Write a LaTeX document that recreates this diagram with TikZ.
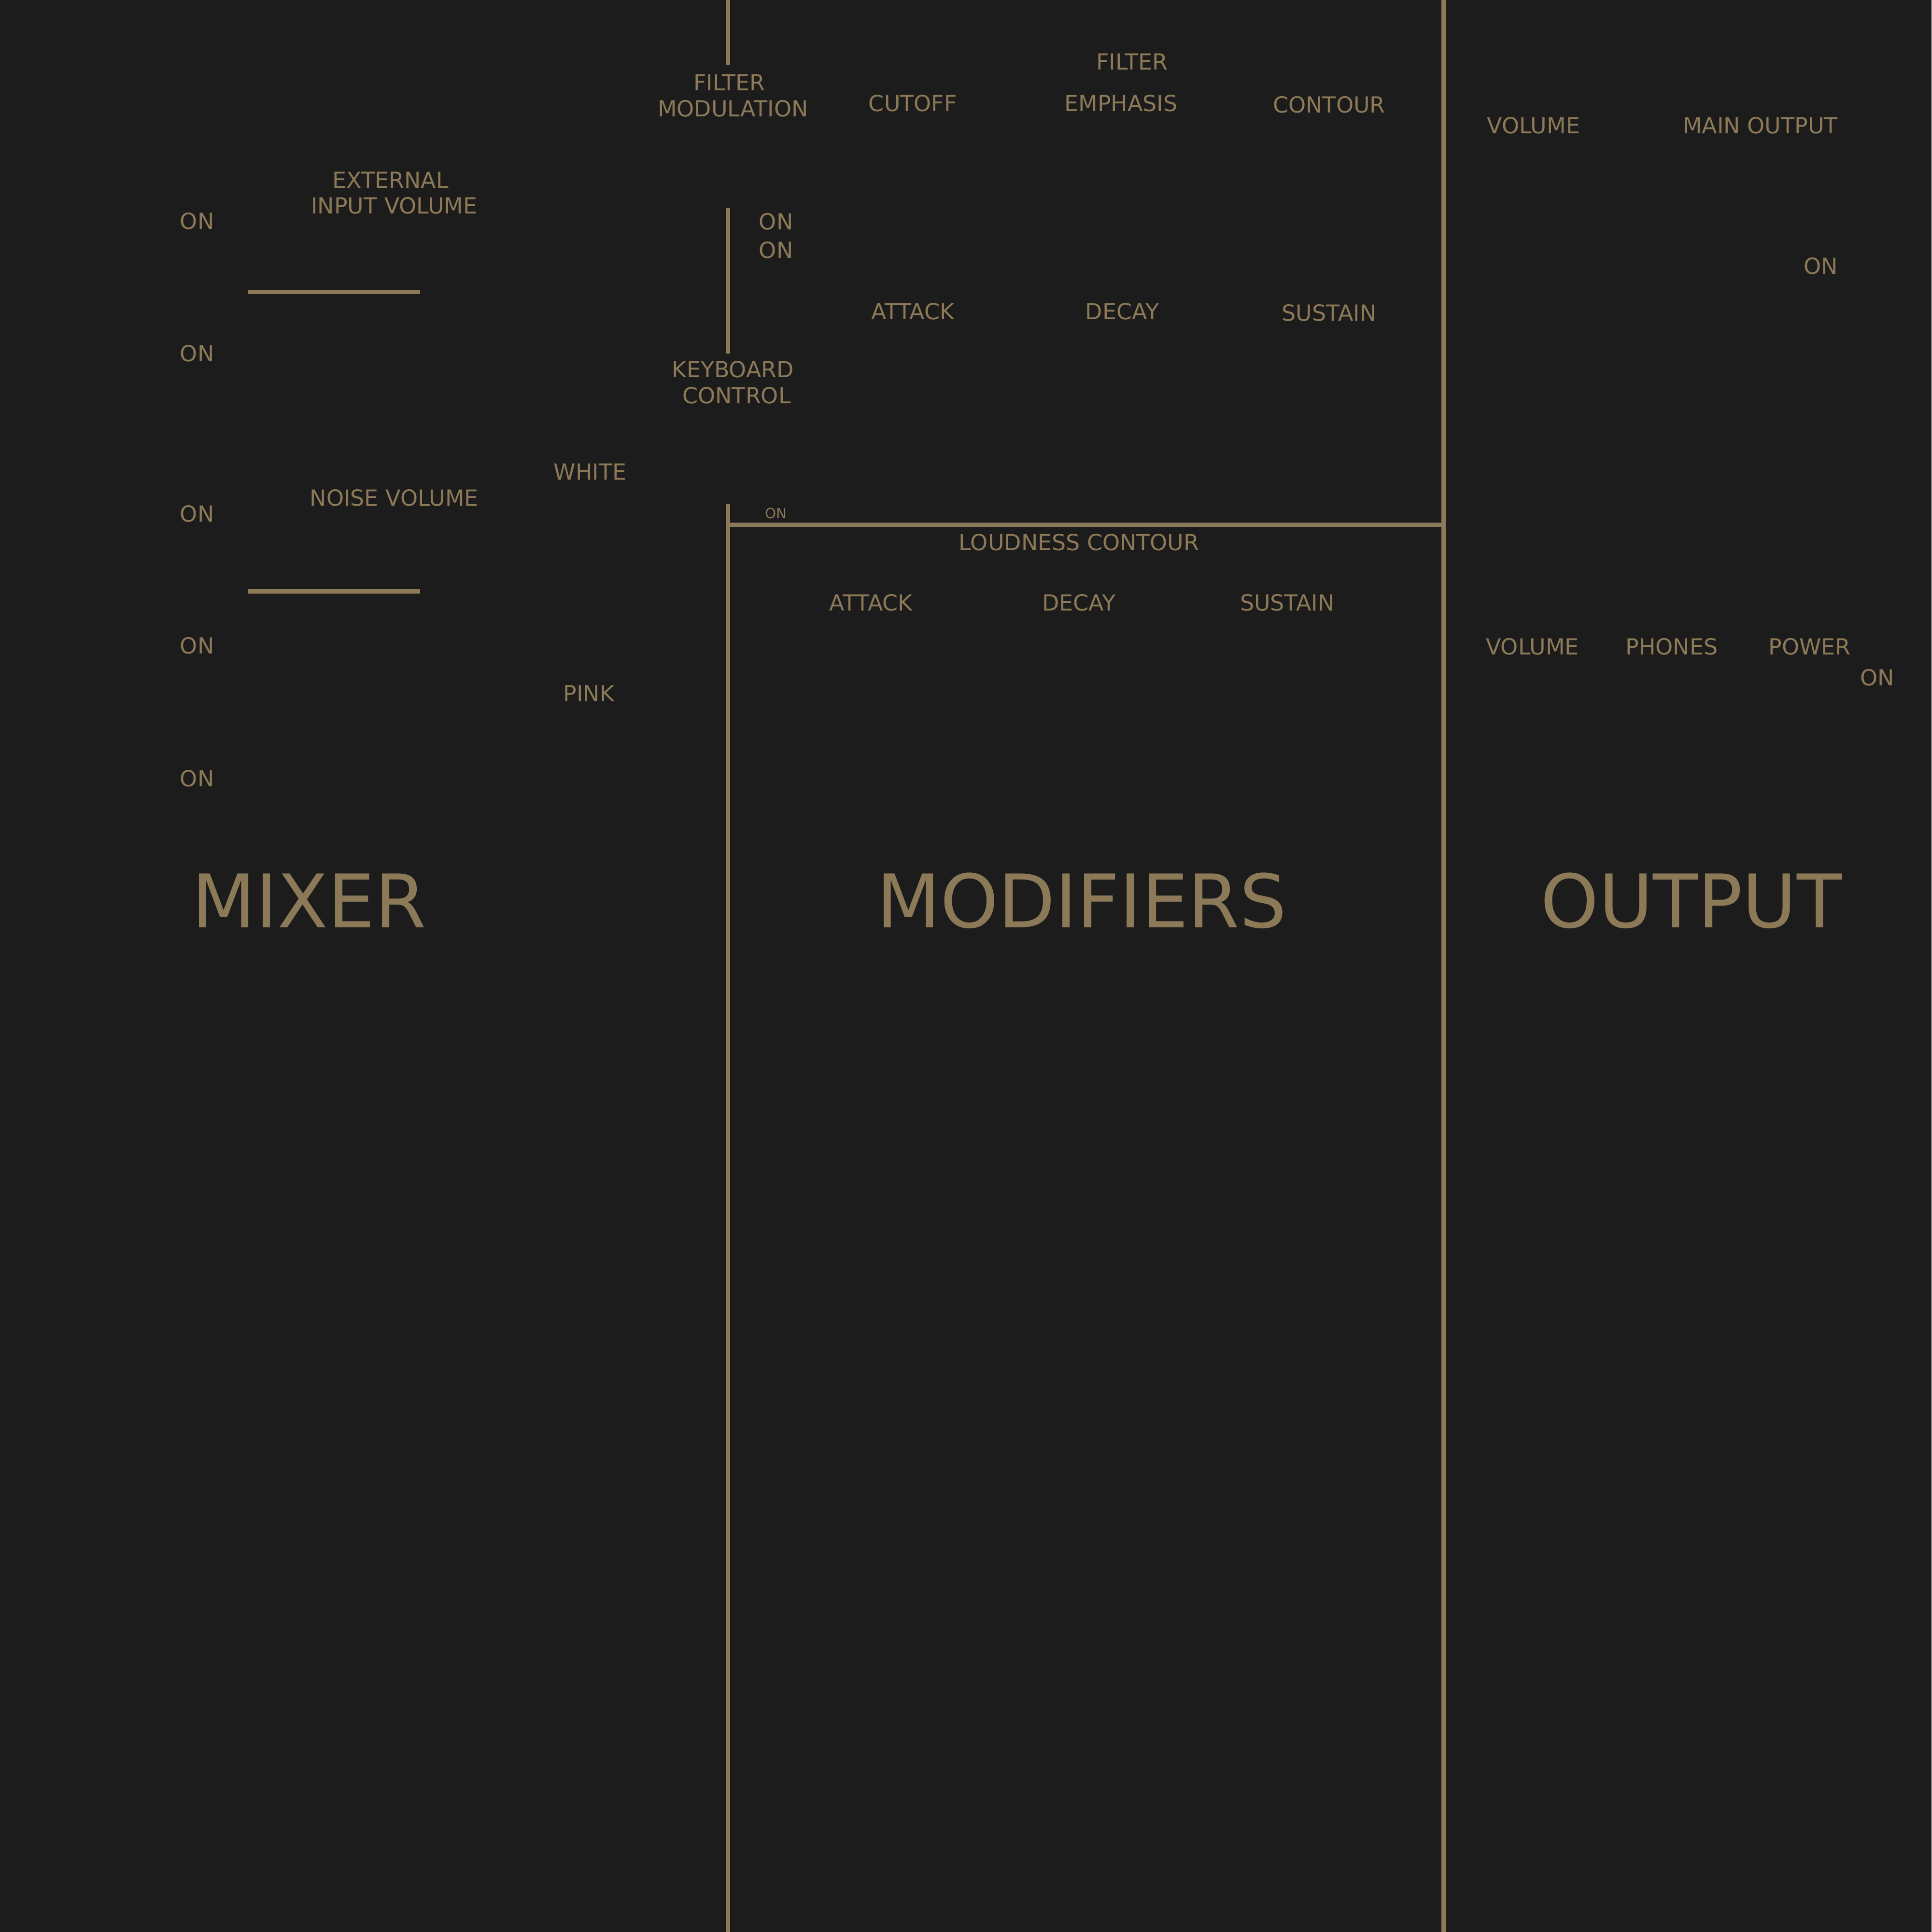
\documentclass[tikz,border=0pt]{standalone}
\usepackage{fontspec}
\setmainfont{DejaVu Sans}
\definecolor{bg}{HTML}{1C1C1C}
\definecolor{gold}{HTML}{8C7957}
\begin{document}
\begin{tikzpicture}[x=1pt,y=-1pt,
  lbl/.style={text=gold,inner sep=0pt,anchor=base,font=\fontsize{18}{21}\selectfont},
  tiny/.style={text=gold,inner sep=0pt,anchor=base,font=\fontsize{11.5}{13}\selectfont},
  big/.style={text=gold,inner sep=0pt,anchor=base,font=\fontsize{60}{70}\selectfont},
  rule/.style={draw=gold,line width=3.5pt}]
\fill[bg] (0,0) rectangle (1568,1568);
\useasboundingbox (0,0) rectangle (1568,1568);
% lines
\coordinate (a1) at (591,0); \coordinate (a2) at (591,53);
\coordinate (b1) at (591,169); \coordinate (b2) at (591,287);
\coordinate (c1) at (591,409); \coordinate (c2) at (591,1568);
\coordinate (h1) at (591,426); \coordinate (h2) at (1172,426);
\coordinate (d1) at (1172,0); \coordinate (d2) at (1172,1568);
\coordinate (m1) at (201,237); \coordinate (m2) at (341,237);
\coordinate (n1) at (201,480); \coordinate (n2) at (341,480);
\draw[rule] (a1) -- (a2);
\draw[rule] (b1) -- (b2);
\draw[rule] (c1) -- (c2);
\draw[rule] (h1) -- (h2);
\draw[rule] (d1) -- (d2);
\draw[rule] (m1) -- (m2);
\draw[rule] (n1) -- (n2);
% mixer
\node[lbl] (ext1) at (317,152.5) {EXTERNAL};
\node[lbl] (ext2) at (320,173.5) {INPUT VOLUME};
\node[lbl] (on1) at (160,186) {ON};
\node[lbl] (on2) at (160,293.5) {ON};
\node[lbl] (on3) at (160,423.5) {ON};
\node[lbl] (on4) at (160,530.5) {ON};
\node[lbl] (on5) at (160,638.5) {ON};
\node[lbl] (noise) at (320,410.5) {NOISE VOLUME};
\node[lbl] (white) at (479,389.5) {WHITE};
\node[lbl] (pink) at (478,569.5) {PINK};
% modifiers
\node[lbl] (fm1) at (592,73.5) {FILTER};
\node[lbl] (fm2) at (595,94.5) {MODULATION};
\node[lbl] (cut) at (741,90.5) {CUTOFF};
\node[lbl] (emp1) at (919,56.5) {FILTER};
\node[lbl] (emp2) at (910,90.5) {EMPHASIS};
\node[lbl] (cont) at (1079,91.5) {CONTOUR};
\node[lbl] (on6) at (630,186.5) {ON};
\node[lbl] (on7) at (630,209.5) {ON};
\node[lbl] (att1) at (741,259.5) {ATTACK};
\node[lbl] (dec1) at (911,259.5) {DECAY};
\node[lbl] (sus1) at (1079,260.5) {SUSTAIN};
\node[lbl] (kb1) at (595,306.5) {KEYBOARD};
\node[lbl] (kb2) at (598,327.5) {CONTROL};
\node[tiny] (on8) at (630,421) {ON};
\node[lbl] (loud) at (876,446.5) {LOUDNESS CONTOUR};
\node[lbl] (att2) at (707,495.5) {ATTACK};
\node[lbl] (dec2) at (876,495.5) {DECAY};
\node[lbl] (sus2) at (1045,495.5) {SUSTAIN};
% output
\node[lbl] (vol1) at (1245,108.5) {VOLUME};
\node[lbl] (main) at (1429,108.5) {MAIN OUTPUT};
\node[lbl] (on9) at (1478,222.5) {ON};
\node[lbl] (vol2) at (1244,531.5) {VOLUME};
\node[lbl] (ph) at (1357,531.5) {PHONES};
\node[lbl] (pw) at (1469,531.5) {POWER};
\node[lbl] (on10) at (1524,556.5) {ON};
% titles
\node[big] (mixer) at (251,753) {MIXER};
\node[big] (mods) at (878,753) {MODIFIERS};
\node[big] (outp) at (1373,753) {OUTPUT};
\end{tikzpicture}
\end{document}
